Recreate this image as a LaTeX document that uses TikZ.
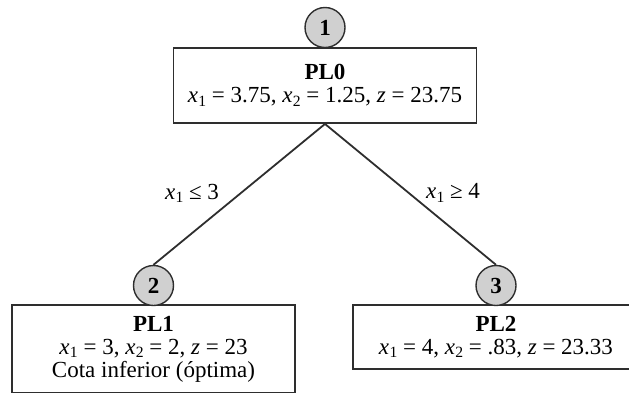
\documentclass[tikz,border=0pt]{standalone}
\usepackage{fontspec}
\setmainfont{Liberation Serif}
\usepackage{graphicx}
% italic variable with a lowered, reduced subscript
\newcommand\xv[1]{\textit{x}\kern0.3pt\raisebox{-0.3ex}{\scalebox{0.68}{#1}}}
\newcommand\zv{\textit{z}}
\definecolor{linegray}{HTML}{2E2E2E}
\definecolor{circgray}{HTML}{D0D0D0}
\tikzset{
  every node/.style={font=\fontsize{23}{23}\selectfont},
  lpbox/.style={draw=linegray, line width=1.9pt, rectangle, inner sep=0pt,
    align=center, fill=white},
  numcirc/.style={circle, draw=linegray, line width=1.4pt, fill=circgray,
    minimum size=40pt, inner sep=0pt, font=\fontsize{23}{23}\selectfont\bfseries},
  branch/.style={draw=linegray, line width=1.8pt},
  cond/.style={inner sep=0pt}
}
\begin{document}
\begin{tikzpicture}[x=1pt,y=-1pt]
\useasboundingbox (0,0) rectangle (629,392);
\clip (0,0) rectangle (629,392);

% subproblem boxes
\node[lpbox, minimum width=303pt, minimum height=75pt] (pl0) at (325,85.5)
  {\textbf{PL0}\\ \xv{1} = 3.75, \xv{2} = 1.25, \zv{} = 23.75};
\node[lpbox, minimum width=283pt, minimum height=88pt] (pl1) at (153.5,349)
  {\textbf{PL1}\\ \xv{1} = 3, \xv{2} = 2, \zv{} = 23\\ Cota inferior (óptima)};
\node[lpbox, minimum width=286pt, minimum height=64pt] (pl2) at (496,337)
  {\textbf{PL2}\\ \xv{1} = 4, \xv{2} = .83, \zv{} = 23.33};

% numbered markers
\node[numcirc] (n1) at (325,27.5) {1};
\node[numcirc] (n2) at (153.5,285.5) {2};
\node[numcirc] (n3) at (496,285.5) {3};

% branches
\draw[branch] (pl0.south) -- (n2.north);
\draw[branch] (pl0.south) -- (n3.north);

% branching conditions
\node[cond] (c1) at (192,193) {\xv{1} ≤ 3};
\node[cond] (c2) at (453,193) {\xv{1} ≥ 4};
\end{tikzpicture}
\end{document}
